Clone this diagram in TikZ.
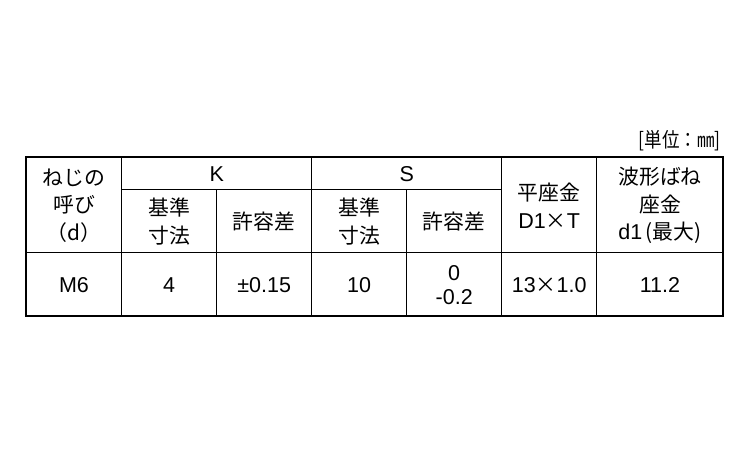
\documentclass[tikz,border=0pt]{standalone}
\usepackage{fontspec}
\setmainfont{Liberation Sans}
\newfontfamily\cjk[Scale=0.97]{Noto Sans CJK JP}
\begin{document}
\begin{tikzpicture}[x=1pt,y=-1pt,
	cell/.style={align=center,inner sep=0pt,font=\fontsize{21.5}{27.5}\selectfont}]
\useasboundingbox (0,0) rectangle (750,450);
\path
	(721,141) node [anchor=east,inner sep=0pt,xscale=0.86,font=\fontsize{21}{22}\selectfont] (unit) {\cjk [単位：㎜]}
	(74,205.5) node [cell] (nominal) {\cjk ねじの\\\cjk 呼び\\\cjk （d）}
	(216.7,174) node [cell] (khead) {K}
	(406.7,174) node [cell] (shead) {S}
	(169.2,221.5) node [cell] (kbase) {\cjk 基準\\\cjk 寸法}
	(264.2,221.5) node [cell] (ktol) {\cjk 許容差}
	(359.2,221.5) node [cell] (sbase) {\cjk 基準\\\cjk 寸法}
	(454.2,221.5) node [cell] (stol) {\cjk 許容差}
	(549.2,205.5) node [cell] (flat) {\cjk 平座金\\D1{\cjk ×}T}
	(660,205.5) node [cell] (wave) {\cjk 波形ばね\\\cjk 座金\\d1\cjk\,(最大)}
	(74,285) node [cell] (m6) {M6}
	(169.2,285) node [cell] (kval) {4}
	(264.2,285) node [cell] (ktolval) {±0.15}
	(359.2,285) node [cell] (sval) {10}
	(454.2,285) node [cell,font=\fontsize{21.5}{24.5}\selectfont] (stolval) {0\\-0.2}
	(549.2,285) node [cell] (flatval) {13{\cjk ×}1.0}
	(660,285) node [cell] (waveval) {11.2};
\draw [line width=1pt] (121.7,189.3) -- (501.7,189.3);
\draw [line width=1pt] (26,252.3) -- (723,252.3);
\draw [line width=1pt] (121.7,157) -- (121.7,316);
\draw [line width=1pt] (216.7,189.3) -- (216.7,316);
\draw [line width=1pt] (311.7,157) -- (311.7,316);
\draw [line width=1pt] (406.7,189.3) -- (406.7,316);
\draw [line width=1pt] (501.7,157) -- (501.7,316);
\draw [line width=1pt] (596.7,157) -- (596.7,316);
\draw [line width=1.8pt] (26,157) rectangle (723,316);
\end{tikzpicture}
\end{document}
